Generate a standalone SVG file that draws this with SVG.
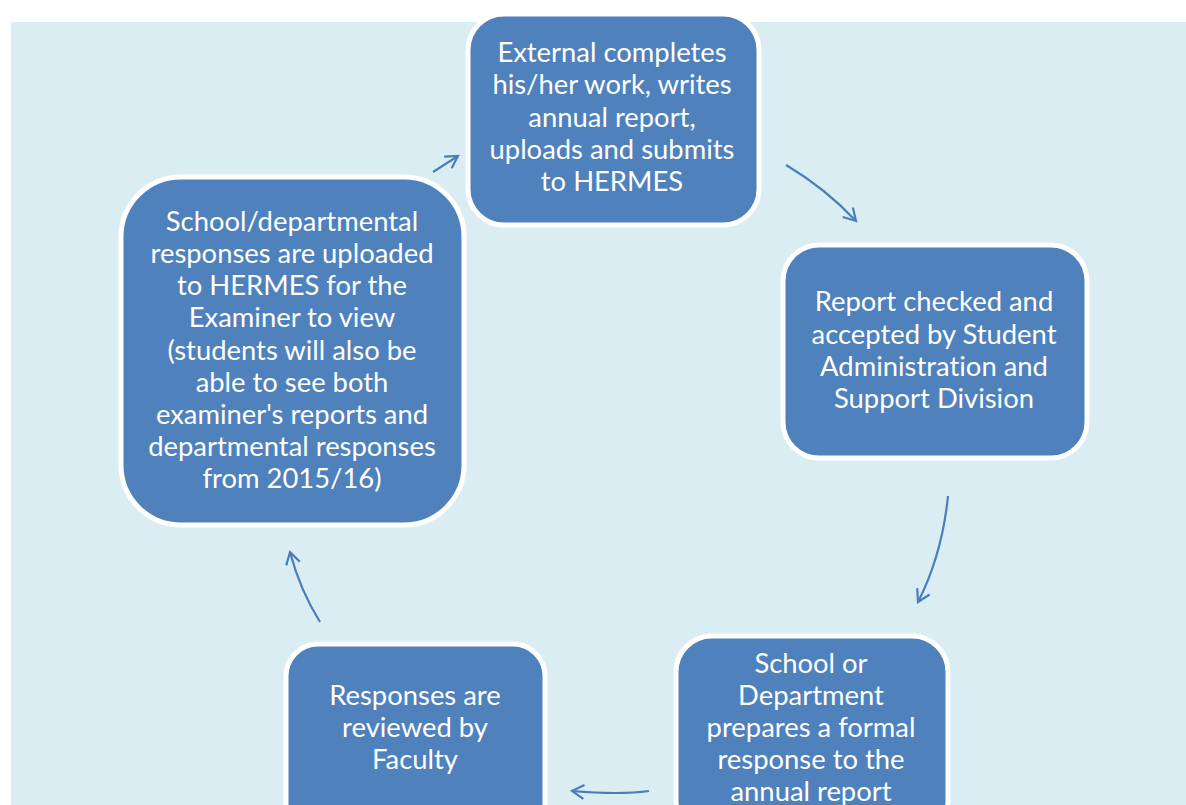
<svg xmlns="http://www.w3.org/2000/svg" width="1186" height="805" viewBox="0 0 1186 805">
<style>
.node{fill:#4f81bd;stroke:#ffffff;stroke-width:5}
.t{font-family:Lato,"Open Sans","Liberation Sans",sans-serif;font-size:27.4px;fill:#ffffff;text-anchor:middle;font-variant-ligatures:none}
.c{fill:none;stroke:#4a7ebb;stroke-width:2.2}
</style>
<defs>
<marker id="ah" markerUnits="userSpaceOnUse" markerWidth="20" markerHeight="20" refX="13" refY="8" orient="auto">
<path d="M1,1 L13,8 L1,15" fill="none" stroke="#4a7ebb" stroke-width="2.2"/>
</marker>
</defs>
<rect x="11" y="22" width="1175" height="783" fill="#daedf3"/>
<g id="connectors">
<path class="c" d="M433,172 L458,156" marker-end="url(#ah)"/>
<path class="c" d="M786,165 Q825,188 856,221" marker-end="url(#ah)"/>
<path class="c" d="M948,496 Q942,555 918,602" marker-end="url(#ah)"/>
<path class="c" d="M649,791 Q620,795 572,791" marker-end="url(#ah)"/>
<path class="c" d="M320,622 Q300,590 290,552" marker-end="url(#ah)"/>
</g>
<g id="n1">
<rect class="node" x="468" y="14" width="291" height="211" rx="36"/>
<text class="t"><tspan x="612" y="62">External completes</tspan><tspan x="612" y="94">his/her work, writes</tspan><tspan x="612" y="127">annual report,</tspan><tspan x="612" y="159">uploads and submits</tspan><tspan x="612" y="191">to HERMES</tspan></text>
</g>
<g id="n2">
<rect class="node" x="783" y="245" width="304" height="213" rx="36"/>
<text class="t"><tspan x="934" y="311">Report checked and</tspan><tspan x="934" y="344">accepted by Student</tspan><tspan x="934" y="376">Administration and</tspan><tspan x="934" y="408">Support Division</tspan></text>
</g>
<g id="n3">
<rect class="node" x="676" y="636" width="272" height="200" rx="36"/>
<text class="t"><tspan x="811" y="673">School or</tspan><tspan x="811" y="705">Department</tspan><tspan x="811" y="737">prepares a formal</tspan><tspan x="811" y="769">response to the</tspan><tspan x="811" y="801">annual report</tspan></text>
</g>
<g id="n4">
<rect class="node" x="286" y="644" width="259" height="200" rx="32"/>
<text class="t"><tspan x="415" y="705">Responses are</tspan><tspan x="415" y="737">reviewed by</tspan><tspan x="415" y="769">Faculty</tspan></text>
</g>
<g id="n5">
<rect class="node" x="121" y="177" width="343" height="348" rx="60"/>
<text class="t"><tspan x="292" y="231">School/departmental</tspan><tspan x="292" y="263">responses are uploaded</tspan><tspan x="292" y="295">to HERMES for the</tspan><tspan x="292" y="327">Examiner to view</tspan><tspan x="292" y="360">(students will also be</tspan><tspan x="292" y="392">able to see both</tspan><tspan x="292" y="424">examiner's reports and</tspan><tspan x="292" y="456">departmental responses</tspan><tspan x="292" y="488">from 2015/16)</tspan></text>
</g>
</svg>
